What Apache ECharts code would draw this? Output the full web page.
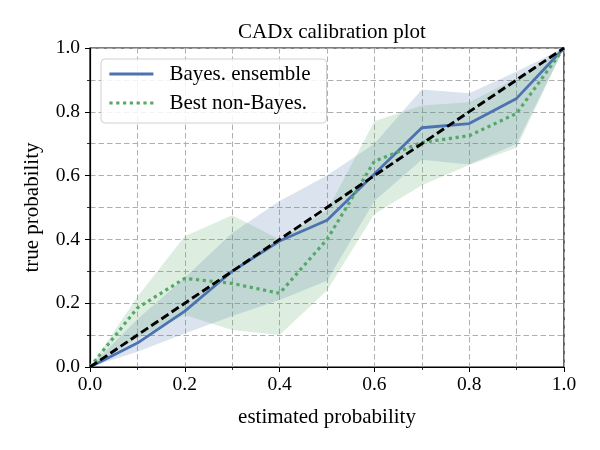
<!DOCTYPE html>
<html>
<head>
<meta charset="utf-8">
<script src="https://cdn.jsdelivr.net/npm/echarts@6/dist/echarts.min.js"></script>
<style>html,body{margin:0;padding:0;background:#fff}#c{width:600px;height:450px}</style>
</head>
<body>
<div id="c"></div>
<script>
const probBins   = [0, 0.1, 0.2, 0.3, 0.4, 0.5, 0.6, 0.7, 0.8, 0.9, 1.0];
const bayesMean  = [0, 0.075, 0.175, 0.30, 0.395, 0.46, 0.605, 0.75, 0.763, 0.842, 1.0];
const bayesLow   = [0, 0.048, 0.105, 0.16, 0.21, 0.27, 0.52, 0.65, 0.635, 0.70, 1.0];
const bayesHigh  = [0, 0.15, 0.28, 0.42, 0.52, 0.60, 0.70, 0.87, 0.858, 0.926, 1.0];
const nonBayesMean = [0, 0.185, 0.278, 0.262, 0.231, 0.40, 0.645, 0.704, 0.725, 0.795, 1.0];
const nonBayesLow  = [0, 0.09, 0.163, 0.116, 0.10, 0.24, 0.48, 0.57, 0.633, 0.687, 1.0];
const nonBayesHigh = [0, 0.22, 0.41, 0.476, 0.40, 0.49, 0.77, 0.82, 0.83, 0.905, 1.0];
const perfect = [0, 1];
const tickLabels = ['0.0', '0.2', '0.4', '0.6', '0.8', '1.0'];

const BLUE = '#4C72B0', GREEN = '#55A868';
const FONT = 'Liberation Serif';
const FS_TICK = 19.5, FS_TEXT = 21;
const pair = (xs, ys) => xs.map((x, i) => [x, ys[i]]);
const fmt = v => { const i = Math.round(v * 5); return tickLabels[i] !== undefined ? tickLabels[i] : ''; };

function bandSeries(name, low, high, color) {
  return {
    name: name, type: 'custom', silent: true, z: 1,
    data: [[0]],
    renderItem: function (params, api) {
      const pts = [];
      probBins.forEach((x, i) => pts.push(api.coord([x, low[i]])));
      for (let i = probBins.length - 1; i >= 0; i--) pts.push(api.coord([probBins[i], high[i]]));
      return { type: 'polygon', shape: { points: pts }, style: { fill: color, opacity: 0.2 } };
    }
  };
}

const gridLine = { show: true, lineStyle: { color: '#b0b0b0', type: [5.5, 3], width: 1 } };
const axisCommon = {
  type: 'value', min: 0, max: 1, interval: 0.2,
  axisLine: { show: true, lineStyle: { color: '#000', width: 1.2 } },
  axisTick: { show: true, length: 5, lineStyle: { color: '#000', width: 1 } },
  minorTick: { show: true, splitNumber: 2, length: 3, lineStyle: { color: '#000', width: 0.8 } },
  splitLine: gridLine,
  minorSplitLine: gridLine,
  axisLabel: { formatter: fmt, color: '#000', fontFamily: FONT, fontSize: FS_TICK },
  nameTextStyle: { color: '#000', fontFamily: FONT, fontSize: FS_TEXT },
  nameLocation: 'middle'
};

const chart = echarts.init(document.getElementById('c'), null, { renderer: 'canvas' });
chart.setOption({
  animation: false,
  backgroundColor: '#fff',
  title: { text: 'CADx calibration plot', left: 327, textAlign: 'center', top: 17,
    textStyle: { fontFamily: FONT, fontSize: FS_TEXT, fontWeight: 'normal', color: '#000' } },
  grid: { left: 90, right: 36, top: 48, bottom: 83, show: true, borderColor: '#000', borderWidth: 1.2, backgroundColor: 'transparent' },
  xAxis: Object.assign({}, axisCommon, { name: 'estimated probability', nameGap: 40,
    axisLabel: Object.assign({}, axisCommon.axisLabel, { margin: 8 }) }),
  yAxis: Object.assign({}, axisCommon, { name: 'true probability', nameGap: 47, nameRotate: 90,
    axisLabel: Object.assign({}, axisCommon.axisLabel, { margin: 10 }) }),
  legend: {
    data: ['Bayes. ensemble', 'Best non-Bayes.'],
    orient: 'vertical', left: 101, top: 59,
    itemWidth: 44, itemHeight: 14, itemGap: 7,
    padding: [4, 8, 9, 7],
    itemStyle: { opacity: 0 },
    lineStyle: { width: 2.8 },
    backgroundColor: 'rgba(255,255,255,0.85)', borderColor: '#d0d0d0', borderWidth: 1, borderRadius: 4,
    textStyle: { fontFamily: FONT, fontSize: FS_TEXT, color: '#000', lineHeight: 22, padding: [0, 8, 0, 11] }
  },
  series: [
    bandSeries('bayesBand', bayesLow, bayesHigh, BLUE),
    bandSeries('nonBayesBand', nonBayesLow, nonBayesHigh, GREEN),
    { name: 'Bayes. ensemble', type: 'line', data: pair(probBins, bayesMean), symbol: 'none', color: BLUE,
      lineStyle: { color: BLUE, width: 2.8 }, z: 5 },
    { name: 'Best non-Bayes.', type: 'line', data: pair(probBins, nonBayesMean), symbol: 'none', color: GREEN,
      lineStyle: { color: GREEN, width: 3.2, type: [3.2, 3.6] }, z: 6 },
    { name: 'perfect', type: 'line', data: pair(perfect, perfect), symbol: 'none',
      lineStyle: { color: '#000', width: 2.9, type: [8.5, 3.8] }, z: 7 }
  ]
});
</script>
</body>
</html>
